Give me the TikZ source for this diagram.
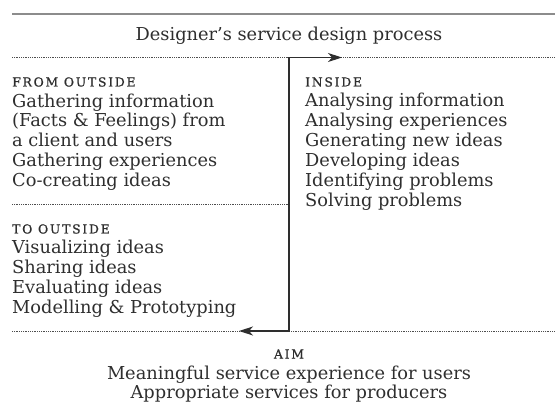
\documentclass[tikz,border=0pt]{standalone}
\usepackage{fontspec}
\setmainfont{DejaVu Serif}
\newfontfamily\headfont[LetterSpace=14,FakeBold=0.8]{DejaVu Serif}
\usetikzlibrary{arrows.meta}

\definecolor{ink}{HTML}{2E2E2E}
\definecolor{rulegray}{HTML}{8C8C8C}

% multi-line nodes sit on the baseline of their last line
\tikzset{
  body/.style={font=\fontsize{17.8}{20}\selectfont, text=ink, inner sep=0pt, align=left, anchor=base west},
  middle/.style={font=\fontsize{17.8}{19.5}\selectfont, text=ink, inner sep=0pt, align=center, anchor=base},
  head/.style={font=\headfont\fontsize{12.4}{14}\selectfont, text=ink, inner sep=0pt, anchor=base west},
  dots/.style={draw=ink!85, line width=0.6pt, dash pattern=on 0.7pt off 1.1pt},
}

\begin{document}
\begin{tikzpicture}[x=1pt,y=-1pt,>={Stealth[length=14pt,width=9pt,inset=4pt]}]
        \useasboundingbox (0,0) rectangle (555,409);

        % rules
        \draw[rulegray, line width=2pt] (12,14) -- (555,14);
        \draw[dots] (12,57.5) -- (555,57.5);
        \draw[dots] (12,204) -- (289,204);
        \draw[dots] (12,331) -- (555,331);

        \node[middle] (title) at (289,41) {Designer’s service design process};

        % from outside
        \node[head] (fromhead) at (12,86.5) {FROM OUTSIDE};
        \node[body] (from) at (12,187) {Gathering information\\(Facts \& Feelings) from\\a client and users\\Gathering experiences\\Co-creating ideas};

        % inside
        \node[head] (insidehead) at (305,86.5) {INSIDE};
        \node[body] (inside) at (305,206.5) {Analysing information\\Analysing experiences\\Generating new ideas\\Developing ideas\\Identifying problems\\Solving problems};

        % to outside
        \node[head] (tohead) at (12,233.5) {TO OUTSIDE};
        \node[body] (to) at (12,313) {Visualizing ideas\\Sharing ideas\\Evaluating ideas\\Modelling \& Prototyping};

        % aim
        \node[head, anchor=base] (aimhead) at (289,358.5) {AIM};
        \node[middle] (aim) at (289,398.5) {Meaningful service experience for users\\Appropriate services for producers};

        % the process line
        \coordinate (top) at (289,57.5);
        \coordinate (bottom) at (289,331);
        \coordinate (intip) at (342,57.5);
        \coordinate (outtip) at (239,331);
        \draw[<->, ink, line width=1.2pt] (outtip) -- (bottom) -- (top) -- (intip);
      \end{tikzpicture}
\end{document}
